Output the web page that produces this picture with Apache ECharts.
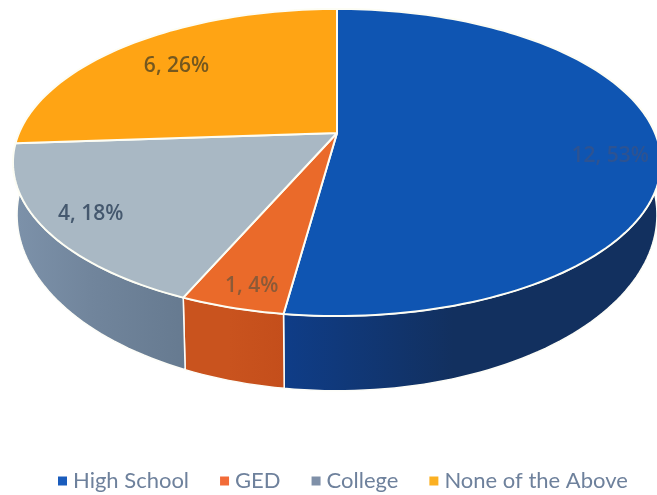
<!DOCTYPE html>
<html><head><meta charset="utf-8">
<style>html,body{margin:0;padding:0;background:#fff}#c{width:657px;height:495px}</style>
<script src="https://cdn.jsdelivr.net/npm/echarts@6/dist/echarts.min.js"></script>
</head><body><div id="c"></div>
<script>
const categories = ['High School', 'GED', 'College', 'None of the Above'];
const counts = [12, 1, 4, 6];
const percentLabels = ['53%', '4%', '18%', '26%'];

const topColors = ['#0f55b2', '#ea6a2a', '#a9b8c4', '#ffa414'];
const legendColors = ['#1a5cbc', '#f26b38', '#7f90a8', '#fbb022'];
const wallColors = [['#0f3d88', '#12305f', '#12305f'], ['#c9531e', '#c9531e', '#c44e1b'], ['#7d92aa', '#71859c', '#667a90'], ['#b87a10', '#b87a10', '#b87a10']];
const labelColors = ['#2d5392', '#8b5a38', '#45586e', '#75581f'];
const labelRadii = [0.83, 0.93, 0.82, 0.78];
const labelShift = [[7, 15], [11, -7], [-12, 4], [4, 4]];

const GEO = {cx: 337, cy: 133, a: 318, b: 147.9, k: 0.192, a2: 314, b2: 169.5, dy: 48};
const total = counts.reduce((s, v) => s + v, 0);

function rim(frac, r, a, b, dy) {
  const t = frac * 2 * Math.PI;
  const u = Math.sin(t) * r, v = -Math.cos(t) * r, w = 1 - GEO.k * v;
  return [GEO.cx + a * u / w, GEO.cy + dy + b * v / w];
}
function arc(f0, f1, a, b, dy) {
  const pts = [], n = Math.max(2, Math.ceil((f1 - f0) * 240));
  for (let i = 0; i <= n; i++) pts.push(rim(f0 + (f1 - f0) * i / n, 1, a, b, dy));
  return pts;
}
function renderSlice(idx) {
  return function () {
    const before = counts.slice(0, idx).reduce((s, v) => s + v, 0);
    const f0 = before / total, f1 = (before + counts[idx]) / total;
    const topArc = arc(f0, f1, GEO.a, GEO.b, 0);
    const botArc = arc(f0, f1, GEO.a2, GEO.b2, GEO.dy).reverse();
    const apex = [GEO.cx, GEO.cy];
    const lp = rim((f0 + f1) / 2, labelRadii[idx], GEO.a, GEO.b, 0);
    return {type: 'group', children: [
      {type: 'polygon', z2: 1, shape: {points: topArc.concat(botArc)},
       style: {fill: {type: 'linear', x: 0, y: 0, x2: 1, y2: 0, colorStops: [
         {offset: 0, color: wallColors[idx][0]}, {offset: 0.45, color: wallColors[idx][1]}, {offset: 1, color: wallColors[idx][2]}]},
         stroke: '#fdfdf8', lineWidth: 1.5, lineJoin: 'round'}},
      {type: 'polygon', z2: 2, shape: {points: [apex].concat(topArc)},
       style: {fill: topColors[idx], stroke: '#fdfdf4', lineWidth: 2, lineJoin: 'round'}},
      {type: 'text', z2: 3, x: lp[0] + labelShift[idx][0], y: lp[1] + labelShift[idx][1],
       style: {text: counts[idx] + ', ' + percentLabels[idx], fill: labelColors[idx],
         font: '600 21px "Open Sans", sans-serif', align: 'center', verticalAlign: 'middle'}}
    ]};
  };
}
const chart = echarts.init(document.getElementById('c'), null, {renderer: 'canvas'});
chart.setOption({
  animation: false,
  legend: {
    data: categories, left: 53, top: 465, itemWidth: 9, itemHeight: 9, itemGap: 31,
    icon: 'rect', selectedMode: false,
    textStyle: {color: '#6e819c', fontFamily: 'Lato', fontSize: 22, padding: [0, 0, 0, 1]}
  },
  series: categories.map((name, i) => ({
    type: 'custom', name, coordinateSystem: 'none', silent: true,
    itemStyle: {color: legendColors[i]},
    data: [counts[i]], renderItem: renderSlice(i)
  }))
});
</script></body></html>
